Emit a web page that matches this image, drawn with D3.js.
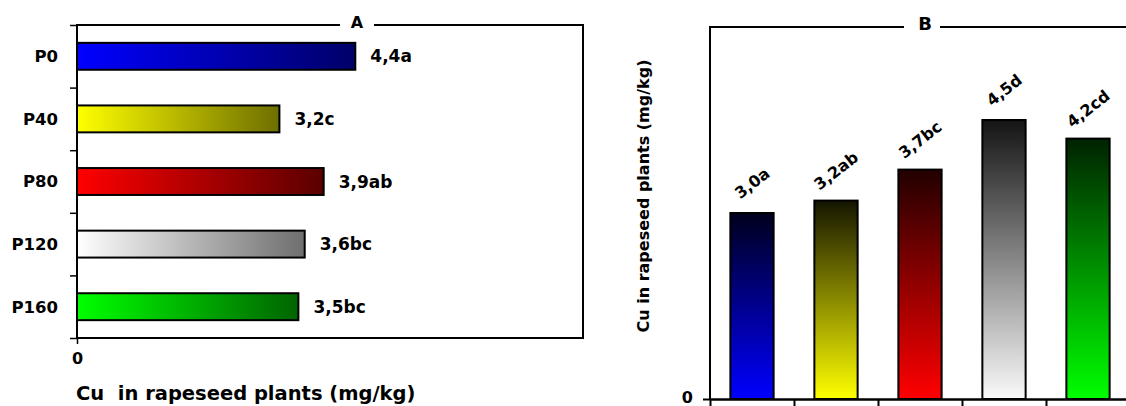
<!DOCTYPE html>
<html><head><meta charset="utf-8">
<script src="https://cdn.jsdelivr.net/npm/d3@7"></script>
<style>
html,body{margin:0;padding:0;background:#fff;}
svg{display:block;}
text{font-family:"DejaVu Sans",sans-serif;font-weight:bold;fill:#000;}
</style></head>
<body>
<svg id="c" width="1126" height="406"></svg>
<script>
// ---- data ----
const categories = ["P0","P40","P80","P120","P160"];
const valuesA = [4.4, 3.2, 3.9, 3.6, 3.5];
const labelsA = ["4,4a","3,2c","3,9ab","3,6bc","3,5bc"];
const valuesB = [3.0, 3.2, 3.7, 4.5, 4.2];
const labelsB = ["3,0a","3,2ab","3,7bc","4,5d","4,2cd"];
const xTickA = [0];
const yTickB = [0];
const titleA = "A", titleB = "B";
const axisTitle = "Cu  in rapeseed plants (mg/kg)";
const axisTitleB = "Cu in rapeseed plants (mg/kg)";
// gradient colours (bright, dark) per category, A horizontal and B vertical
const gradA = [["#0000ff","#000068"],["#ffff00","#6e6e00"],["#ff0000","#5a0000"],["#ffffff","#6e6e6e"],["#00ff00","#006400"]];
const gradB = [["#0000ff","#00001e"],["#ffff00","#151500"],["#ff0000","#220000"],["#fafafa","#141414"],["#00ff00","#002200"]];

const svg = d3.select("#c");
const defs = svg.append("defs");
categories.forEach((c,i)=>{
  const ga = defs.append("linearGradient").attr("id","ga"+i).attr("x1","0").attr("y1","0").attr("x2","1").attr("y2","0");
  ga.append("stop").attr("offset","0").attr("stop-color",gradA[i][0]);
  ga.append("stop").attr("offset","1").attr("stop-color",gradA[i][1]);
  const gb = defs.append("linearGradient").attr("id","gb"+i).attr("x1","0").attr("y1","1").attr("x2","0").attr("y2","0");
  gb.append("stop").attr("offset","0").attr("stop-color",gradB[i][0]);
  gb.append("stop").attr("offset","1").attr("stop-color",gradB[i][1]);
});

// ---------- Panel A ----------
const A = {l:77, r:583, t:25, b:338};
const xA = d3.scaleLinear().domain([0,8]).range([A.l,A.r]);
const pA = 0.57;
const yA = d3.scaleBand().domain(categories).range([A.t,A.b]).paddingInner(pA).paddingOuter(pA/2);
const yAb = d3.scaleLinear().domain([0,categories.length]).range([A.t,A.b]);

const gA = svg.append("g");
// boundary ticks on left
gA.append("g").attr("transform",`translate(${A.l},0)`)
  .call(d3.axisLeft(yAb).ticks(5).tickSize(7).tickFormat(""))
  .call(g=>{g.select(".domain").remove(); g.selectAll("line").attr("stroke","#000").attr("stroke-width",1.5);});
// bottom tick with 0 label
gA.append("g").attr("transform",`translate(0,${A.b})`)
  .call(d3.axisBottom(xA).tickValues(xTickA).tickSize(6).tickFormat(d3.format("d")))
  .call(g=>{g.select(".domain").remove();
    g.selectAll("line").attr("stroke","#000").attr("stroke-width",1.5);
    g.selectAll("text").attr("dy",null).attr("y",26).attr("font-size",16).attr("font-family","DejaVu Sans").attr("font-weight","bold");});
// box
gA.append("rect").attr("x",A.l).attr("y",A.t).attr("width",A.r-A.l).attr("height",A.b-A.t)
  .attr("fill","none").attr("stroke","#000").attr("stroke-width",2);
// bars
gA.selectAll("rect.bar").data(categories).join("rect").attr("class","bar")
  .attr("x",xA(0)).attr("y",d=>yA(d))
  .attr("width",(d,i)=>xA(valuesA[i])-xA(0)).attr("height",yA.bandwidth())
  .attr("fill",(d,i)=>`url(#ga${i})`).attr("stroke","#000").attr("stroke-width",2);
// value labels
gA.selectAll("text.val").data(categories).join("text").attr("class","val")
  .attr("x",(d,i)=>xA(valuesA[i])+15).attr("y",d=>yA(d)+yA.bandwidth()/2).attr("dy","0.36em")
  .attr("font-size",17).text((d,i)=>labelsA[i]);
// category labels
gA.selectAll("text.cat").data(categories).join("text").attr("class","cat")
  .attr("x",58).attr("y",d=>yA(d)+yA.bandwidth()/2).attr("dy","0.36em")
  .attr("text-anchor","end").attr("font-size",16.5).text(d=>d);
// title
gA.append("rect").attr("x",340).attr("y",14).attr("width",34).attr("height",18).attr("fill","#fff");
gA.append("text").attr("x",357).attr("y",28).attr("text-anchor","middle").attr("font-size",16).text(titleA);
// axis title
gA.append("text").attr("x",76).attr("y",400).attr("font-size",19.5).attr("xml:space","preserve")
  .style("white-space","pre").text(axisTitle);

// ---------- Panel B ----------
const B = {l:710, r:1130, t:27, b:399};
const pB = 0.485;
const xB = d3.scaleBand().domain(categories).range([B.l,B.r]).paddingInner(pB).paddingOuter(pB/2);
const xBb = d3.scaleLinear().domain([0,categories.length]).range([B.l,B.r]);
const yB = d3.scaleLinear().domain([0,6]).range([B.b,B.t]);
const gB = svg.append("g");
// box lines (left, top, right)
gB.append("path").attr("d",`M${B.l},${B.b}V${B.t}H${B.r}V${B.b}`).attr("fill","none").attr("stroke","#000").attr("stroke-width",2);
// bottom axis with boundary ticks
gB.append("g").attr("transform",`translate(0,${B.b})`)
  .call(d3.axisBottom(xBb).ticks(5).tickSize(8).tickFormat("").tickSizeOuter(0))
  .call(g=>{g.select(".domain").attr("stroke","#000").attr("stroke-width",2.5);
    g.selectAll("line").attr("stroke","#000").attr("stroke-width",2);});
// left tick with 0
gB.append("g").attr("transform",`translate(${B.l},0)`)
  .call(d3.axisLeft(yB).tickValues(yTickB).tickSize(7).tickFormat(d3.format("d")))
  .call(g=>{g.select(".domain").remove();
    g.selectAll("line").attr("stroke","#000").attr("stroke-width",2);
    g.selectAll("text").attr("x",-17).attr("y",-2).attr("dy","0.36em").attr("font-size",16).attr("font-family","DejaVu Sans").attr("font-weight","bold");});
// bars
gB.selectAll("rect.bar").data(categories).join("rect").attr("class","bar")
  .attr("x",d=>xB(d)).attr("y",(d,i)=>yB(valuesB[i]))
  .attr("width",xB.bandwidth()).attr("height",(d,i)=>yB(0)-yB(valuesB[i]))
  .attr("fill",(d,i)=>`url(#gb${i})`).attr("stroke","#000").attr("stroke-width",2);
// value labels rotated
gB.selectAll("text.val").data(categories).join("text").attr("class","val")
  .attr("transform",(d,i)=>`translate(${xB(d)+xB.bandwidth()/2},${yB(valuesB[i])-30}) rotate(-38)`)
  .attr("text-anchor","middle").attr("dy","0.36em").attr("font-size",16).text((d,i)=>labelsB[i]);
// title
gB.append("rect").attr("x",904).attr("y",14).attr("width",36).attr("height",20).attr("fill","#fff");
gB.append("text").attr("x",925).attr("y",30).attr("text-anchor","middle").attr("font-size",18).text(titleB);
// y axis title
gB.append("text").attr("transform","translate(649,196) rotate(-90)").attr("text-anchor","middle")
  .attr("font-size",16).text(axisTitleB);
</script>
</body></html>
